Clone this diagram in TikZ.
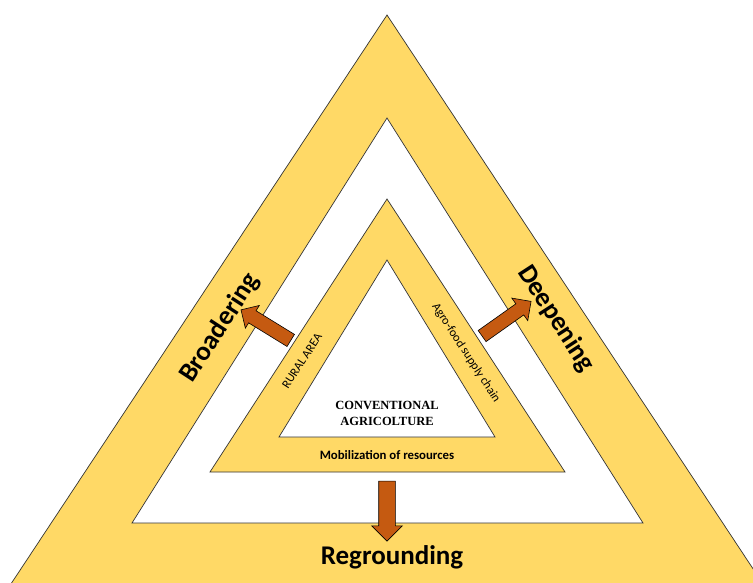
\documentclass[tikz,border=0pt]{standalone}
\usepackage{fontspec}
\setmainfont{Carlito}
\newfontfamily\timesfont{Liberation Serif}
\usetikzlibrary{shapes.arrows}
\definecolor{bandyellow}{HTML}{FFD966}
\definecolor{arrowrust}{HTML}{C55A11}
\definecolor{edgegray}{HTML}{333333}
\tikzset{
  band/.style={fill=bandyellow, draw=edgegray, line width=0.7pt, line join=miter},
  hole/.style={fill=white, draw=edgegray, line width=0.7pt, line join=miter},
  blockarrow/.style={single arrow, fill=arrowrust, draw=black, line width=0.6pt,
    inner xsep=0pt, minimum width=0pt, single arrow head indent=0pt},
  biglabel/.style={font=\bfseries\fontsize{27}{30}\selectfont, inner sep=0pt},
  smalllabel/.style={font=\fontsize{12.3}{14}\selectfont, inner sep=0pt},
}
\begin{document}
\begin{tikzpicture}[x=1pt, y=1pt]
\useasboundingbox (0,0) rectangle (753,582);
\begin{scope}
\clip (0,0) rectangle (753,582);
% outer band, its base lies below the frame
\draw[band] (387,567) -- (788.2,-40) -- (-14.2,-40) -- cycle;
% white ring
\draw[hole] (387,464) -- (643,59) -- (132,59) -- cycle;
% middle band
\draw[band] (387,383) -- (565,110) -- (210,110) -- cycle;
% core
\draw[hole] (387,322) -- (495,145) -- (279,145) -- cycle;
\end{scope}

% arrows pointing outwards
\node[blockarrow, rotate=148.4, minimum height=58.4pt, inner ysep=6.8pt,
  single arrow head extend=6.2pt] (arrBroad) at (268.9,255) {};
\node[blockarrow, rotate=35.3, minimum height=60pt, inner ysep=6.5pt,
  single arrow head extend=7pt] (arrDeep) at (503.8,261.3) {};
\node[blockarrow, rotate=-90, minimum height=60pt, inner ysep=8pt,
  single arrow head extend=7pt] (arrReground) at (387,75) {};

% outer labels
\node[biglabel, rotate=57] (broad) at (220,254) {Broadering};
\node[biglabel, rotate=-57] (deep) at (556,263) {Deepening};
\node[biglabel] (reground) at (392,25) {Regrounding};

% middle band labels
\node[smalllabel, rotate=57] (rural) at (302,221) {RURAL AREA};
\node[smalllabel, rotate=-57] (agro) at (466,229) {Agro-food supply chain};
\node[smalllabel, font=\bfseries\fontsize{12.8}{14}\selectfont] (mob) at (387,127) {Mobilization of resources};

% core label
\node[inner sep=0pt, align=center, font=\timesfont\bfseries\fontsize{12.5}{16}\selectfont] (core) at (387,169) {CONVENTIONAL\\AGRICOLTURE};
\end{tikzpicture}
\end{document}
